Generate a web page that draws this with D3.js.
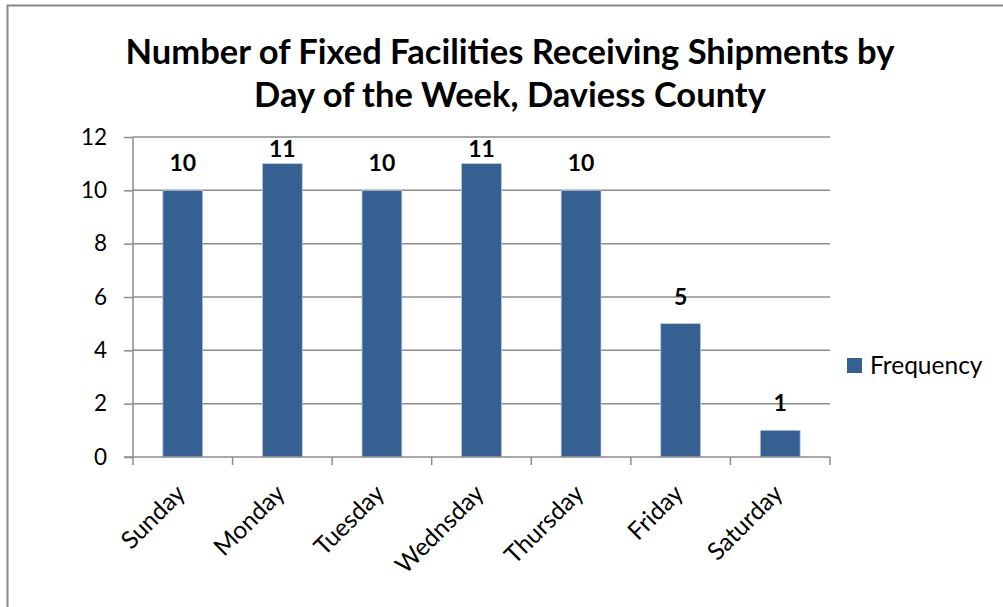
<!DOCTYPE html>
<html>
<head>
<meta charset="utf-8">
<script src="https://cdn.jsdelivr.net/npm/d3@7"></script>
<style>
  html, body { margin: 0; padding: 0; background: #fff; }
  svg { display: block; }
  text { font-family: Lato, "Open Sans", sans-serif; fill: #000; }
</style>
</head>
<body>
<svg id="chart" width="1003" height="607"></svg>
<script>
// Shipments by weekday
const days = ["Sunday", "Monday", "Tuesday", "Wednsday", "Thursday", "Friday", "Saturday"];
const frequency = [10, 11, 10, 11, 10, 5, 1];
const yTicks = [0, 2, 4, 6, 8, 10, 12];
const titleLines = ["Number of Fixed Facilities Receiving Shipments by", "Day of the Week, Daviess County"];
const seriesName = "Frequency";

const W = 1003, H = 607;
const plot = { left: 133, right: 830, top: 137, bottom: 457 };
const barColor = "#376092";
const gridColor = "#8c8c8c";

const svg = d3.select("#chart");

// outer chart frame
svg.append("rect")
  .attr("x", 7.5).attr("y", 5.5)
  .attr("width", W + 20).attr("height", H + 20)
  .attr("fill", "#fff").attr("stroke", "#888").attr("stroke-width", 2);

const x = d3.scaleBand().domain(days).range([plot.left, plot.right])
  .paddingInner(0.6).paddingOuter(0.3);
const xOuter = d3.scaleBand().domain(days).range([plot.left, plot.right]);
const y = d3.scaleLinear().domain([0, 12]).range([plot.bottom, plot.top]);

// title
svg.append("g").selectAll("text").data(titleLines).join("text")
  .attr("x", 510).attr("y", (d, i) => 64 + i * 43)
  .attr("text-anchor", "middle")
  .attr("font-size", 34.5).attr("font-weight", "bold")
  .text(d => d);

// gridlines
svg.append("g").selectAll("line").data(yTicks.filter(t => t > 0)).join("line")
  .attr("x1", plot.left).attr("x2", plot.right)
  .attr("y1", d => y(d)).attr("y2", d => y(d))
  .attr("stroke", gridColor).attr("stroke-width", 1.5);

// bars
svg.append("g").selectAll("rect").data(frequency).join("rect")
  .attr("x", (d, i) => x(days[i]))
  .attr("width", x.bandwidth())
  .attr("y", d => y(d))
  .attr("height", d => y(0) - y(d))
  .attr("fill", barColor)
  .attr("stroke", "#b3c5dd").attr("stroke-width", 0.8);

// value labels
svg.append("g").selectAll("text").data(frequency).join("text")
  .attr("x", (d, i) => x(days[i]) + x.bandwidth() / 2)
  .attr("y", d => Math.max(y(d) - 19, y(12) + 20))
  .attr("text-anchor", "middle")
  .attr("font-size", 23).attr("font-weight", "bold")
  .text(d => d);

// y axis
const yAxis = svg.append("g")
  .attr("transform", `translate(${plot.left},0)`)
  .call(d3.axisLeft(y).tickValues(yTicks).tickSize(9).tickPadding(17).tickFormat(d3.format("d")));
yAxis.select(".domain").attr("stroke", gridColor).attr("stroke-width", 1.5)
  .attr("d", `M0,${plot.top}V${plot.bottom}`);
yAxis.selectAll(".tick line").attr("stroke", gridColor).attr("stroke-width", 1.5);
yAxis.selectAll(".tick text").attr("font-size", 22.5).attr("font-family", "Lato, 'Open Sans', sans-serif").attr("fill", "#000");

// x axis: tick marks at category boundaries
const xBase = svg.append("g").attr("transform", `translate(0,${plot.bottom})`);
xBase.append("line")
  .attr("x1", plot.left - 9).attr("x2", plot.right)
  .attr("stroke", gridColor).attr("stroke-width", 1.5);
const bounds = days.map(d => xOuter(d)).concat([plot.right]);
xBase.selectAll("line.tk").data(bounds).join("line").attr("class", "tk")
  .attr("x1", d => d).attr("x2", d => d).attr("y1", 0).attr("y2", 8)
  .attr("stroke", gridColor).attr("stroke-width", 1.5);

// rotated category labels
xBase.selectAll("text").data(days).join("text")
  .attr("transform", d => `translate(${x(d) + x.bandwidth() / 2 + 4},${38}) rotate(-45)`)
  .attr("text-anchor", "end")
  .attr("font-size", 24.5)
  .text(d => d);

// legend
const lg = svg.append("g").attr("transform", "translate(847,358)");
lg.append("rect").attr("width", 15).attr("height", 15).attr("fill", barColor);
lg.append("text").attr("x", 23).attr("y", 15.5).attr("font-size", 24.5).text(seriesName);
</script>
</body>
</html>
